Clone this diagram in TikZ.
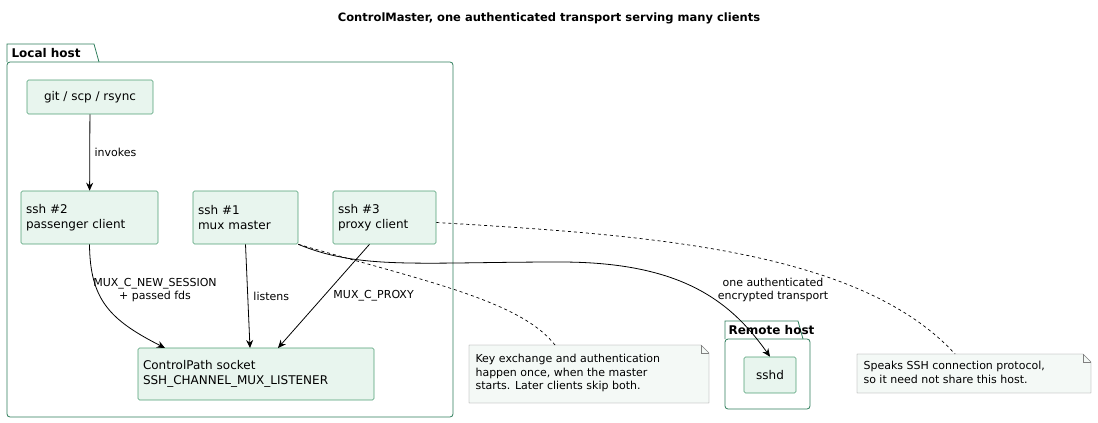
\documentclass[tikz,border=0pt]{standalone}
\usepackage{fontspec}
\setmainfont{DejaVu Sans}
\usepackage{xcolor}
\usetikzlibrary{positioning,arrows.meta,calc}
\definecolor{pkgline}{HTML}{2E7D5B}
\definecolor{boxfill}{HTML}{E8F5EE}
\definecolor{boxline}{HTML}{4E9E74}
\definecolor{notefill}{HTML}{F4F9F6}
\tikzset{
  box/.style={draw=boxline, fill=boxfill, rounded corners=1.5pt, align=left,
    font=\fontsize{12}{15}\selectfont, inner sep=0pt, line width=0.6pt},
  lbl/.style={font=\fontsize{11}{13.5}\selectfont, align=center},
  arr/.style={-{Stealth[length=8pt,width=7pt]}, line width=0.8pt},
  notelink/.style={dashed, line width=0.7pt}
}
\begin{document}
\begin{tikzpicture}[x=1pt,y=-1pt]
    \useasboundingbox (0,0) rectangle (1098,423);
    \node[font=\bfseries\fontsize{11.5}{14}\selectfont] (title) at (549,18)
        {ControlMaster, one authenticated transport serving many clients};

    % Local host package
    \draw[pkgline, thick] (7,62) -- (7,44) -- (94,44) -- (99,62);
    \draw[pkgline, thick, rounded corners=3pt] (7,62) rectangle (453,417);
    \node[font=\bfseries\fontsize{12}{14}\selectfont, anchor=west] (localhost) at (8,53) {Local host};

    % Remote host package
    \draw[pkgline, thick] (725,339) -- (725,321) -- (798,321) -- (803,339);
    \draw[pkgline, thick, rounded corners=3pt] (725,339) rectangle (810,409);
    \node[font=\bfseries\fontsize{12}{14}\selectfont, anchor=west] (remotehost) at (725,330) {Remote host};

    % Boxes
    \node[box, minimum width=126pt, minimum height=34pt, align=center] (git) at (90,97) {git / scp / rsync};
    \node[box, minimum width=137pt, minimum height=53pt, text width=127pt] (ssh2) at (89.5,217.5) {ssh \#2\\passenger client};
    \node[box, minimum width=105pt, minimum height=53pt, text width=95pt] (ssh1) at (245.5,217.5) {ssh \#1\\mux master};
    \node[box, minimum width=103pt, minimum height=53pt, text width=93pt] (ssh3) at (384.5,217.5) {ssh \#3\\proxy client};
    \node[box, minimum width=236pt, minimum height=52pt, text width=226pt] (sock) at (256,374) {ControlPath socket\\SSH\_CHANNEL\_MUX\_LISTENER};
    \node[box, minimum width=52pt, minimum height=36pt, align=center] (sshd) at (770,375) {sshd};

    % Notes
    \draw[gray, fill=notefill] (469,345) -- (701,345) -- (709,353) -- (709,403) -- (469,403) -- cycle;
    \draw[gray] (701,345) -- (701,353) -- (709,353);
    \node[lbl, align=left, anchor=north west] (note1) at (472,351)
        {Key exchange and authentication\\happen once, when the master\\starts. Later clients skip both.};
    \draw[gray, fill=notefill] (857,354) -- (1083,354) -- (1091,362) -- (1091,393) -- (857,393) -- cycle;
    \draw[gray] (1083,354) -- (1083,362) -- (1091,362);
    \node[lbl, align=left, anchor=north west] (note2) at (860,358)
        {Speaks SSH connection protocol,\\so it need not share this host.};
    \coordinate (n1top) at (555,345);
    \coordinate (n2top) at (955,354);

    % Connectors
    \draw[arr] (git) -- node[lbl, right=1pt] {invokes} (ssh2);
    \draw[arr] (ssh2.south) .. controls (90,300) and (110,320) .. (165,348);
    \node[lbl] (lnew) at (155,290) {MUX\_C\_NEW\_SESSION\\+ passed fds};
    \draw[arr] (ssh1.south) -- node[lbl, right=2pt] {listens} (250,348);
    \draw[arr] ($(ssh3.south)+(-15,0)$) -- node[lbl, right=6pt] {MUX\_C\_PROXY} (278,348);
    \draw[arr] (ssh1.south east) .. controls (360,270) and (420,262) .. (560,262)
        .. controls (680,262) and (730,300) .. (sshd.north);
    \node[lbl] (ltrans) at (773,290) {one authenticated\\encrypted transport};
    \draw[notelink] (ssh1.south east) .. controls (420,280) and (520,300) .. (n1top);
    \draw[notelink] ($(ssh3.east)+(0,5)$) .. controls (650,235) and (860,250) .. (n2top);
\end{tikzpicture}
\end{document}
